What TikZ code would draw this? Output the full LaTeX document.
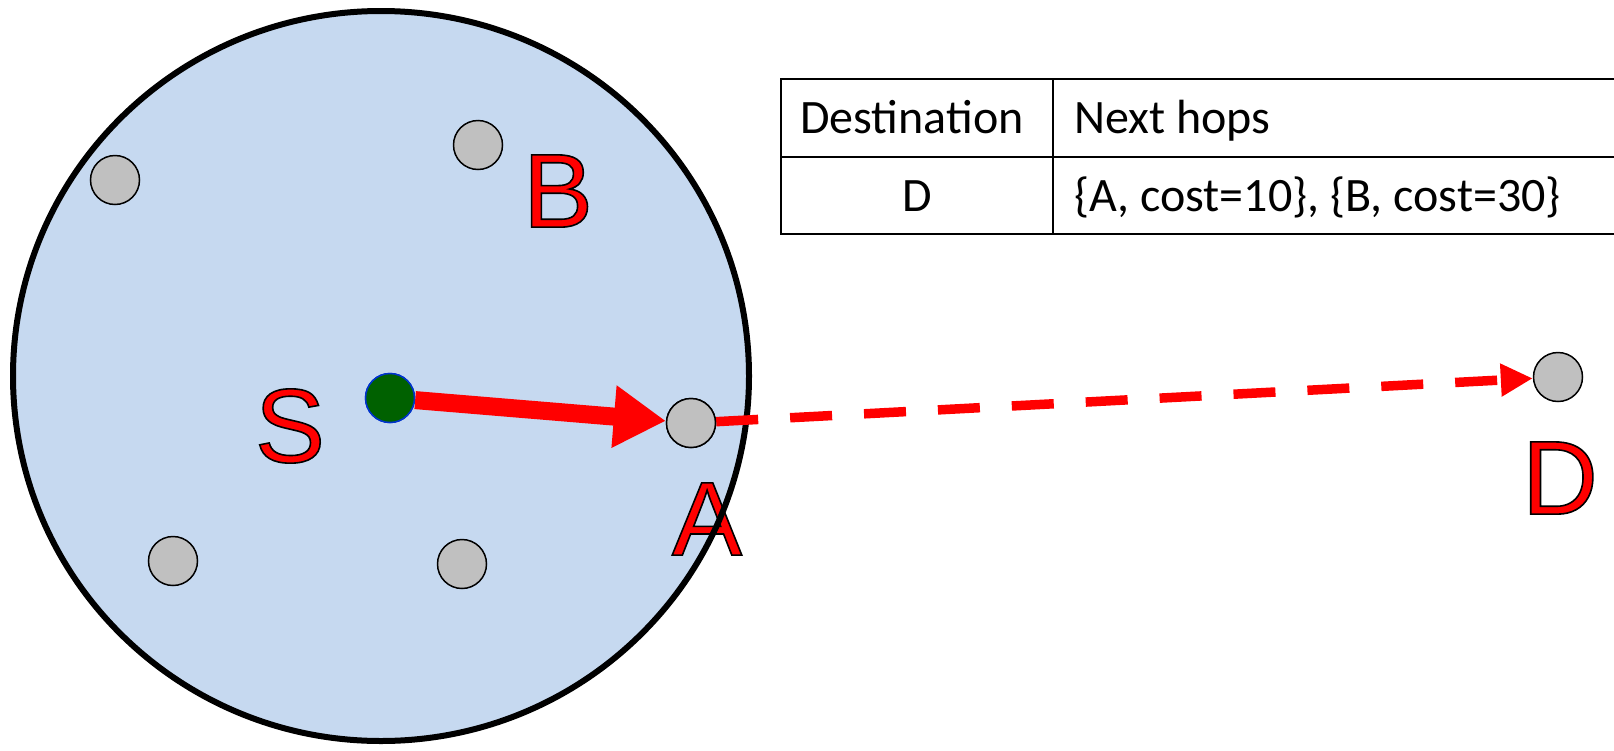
\documentclass[tikz,border=0pt]{standalone}
\usepackage{fontspec}
\setmainfont{Carlito}
\newfontfamily\lblfont{Liberation Sans}
\usetikzlibrary{arrows.meta}

\definecolor{zonefill}{RGB}{198,217,240}
\definecolor{nodegray}{RGB}{192,192,192}
\definecolor{srcgreen}{RGB}{0,97,0}
\definecolor{srcblue}{RGB}{0,51,204}
\definecolor{hopred}{RGB}{255,0,0}

% red letters with a thin black outline (fill + stroke text render mode)
\newcommand{\outlined}[1]{\special{pdf:literal direct 0 0 0 RG 1.6 w 2 Tr}#1\special{pdf:literal direct 0 Tr}}

\begin{document}
\begin{tikzpicture}[x=1pt,y=-1pt,
  host/.style={circle, draw=black, line width=1.5pt, fill=nodegray,
               minimum size=49pt, inner sep=0pt},
  source/.style={host, fill=srcgreen, draw=srcblue},
  letter/.style={text=hopred, inner sep=0pt,
                 font=\lblfont\fontsize{105}{105}\selectfont},
  cell/.style={inner sep=0pt, font=\fontsize{48}{58}\selectfont},
  outerrule/.style={line width=2pt, line cap=rect},
  innerrule/.style={line width=1.5pt},
  hop/.style={hopred, line width=18pt, -{Triangle[length=52pt,width=59pt]}},
  route/.style={hopred, line width=9.5pt, dash pattern=on 42pt off 32pt,
                -{Triangle[length=32pt,width=31pt]}}]
\useasboundingbox (0,0) rectangle (1614,750);

% radio range of S
\fill[zonefill] (381,376) ellipse [x radius=368pt, y radius=365pt];

% node labels
\node[letter] (lB) at (558,191) {\outlined{B}};
\node[letter] (lS) at (290,426) {\outlined{S}};
\node[letter] (lA) at (707,519) {\outlined{A}};
\node[letter] (lD) at (1560,478) {\outlined{D}};

\draw[line width=6pt] (381,376) ellipse [x radius=368pt, y radius=365pt];

% hosts
\node[host] (n1) at (115,180) {};
\node[host] (B) at (478,145) {};
\node[source] (S) at (390,398) {};
\node[host] (A) at (691,423) {};
\node[host] (n5) at (173,561) {};
\node[host] (n6) at (462,564) {};
\node[host] (D) at (1558,377) {};

% forwarding
\draw[route] (A) -- (D);
\draw[hop] (S) -- (A);
\node[source] at (S) {};
\node[host] at (A) {};

% routing table
\coordinate (tl) at (781,78.5);
\coordinate (tm) at (781,157);
\coordinate (tb) at (781,234);
\coordinate (tr) at (1616,78.5);
\coordinate (mr) at (1616,157);
\coordinate (br) at (1616,234);
\coordinate (ct) at (1053,78.5);
\coordinate (cb) at (1053,234);
\draw[outerrule] (tr) -- (tl) -- (tb) -- (br);
\draw[innerrule] (tm) -- (mr);
\draw[innerrule] (ct) -- (cb);

\node[cell, anchor=base west] (h1) at (800,133) {Destination};
\node[cell, anchor=base west] (h2) at (1074,133) {Next hops};
\node[cell, anchor=base] (d1) at (917,211) {D};
\node[cell, anchor=base west] (d2) at (1074,211) {\{A, cost=10\}, \{B, cost=30\}};
\end{tikzpicture}
\end{document}
